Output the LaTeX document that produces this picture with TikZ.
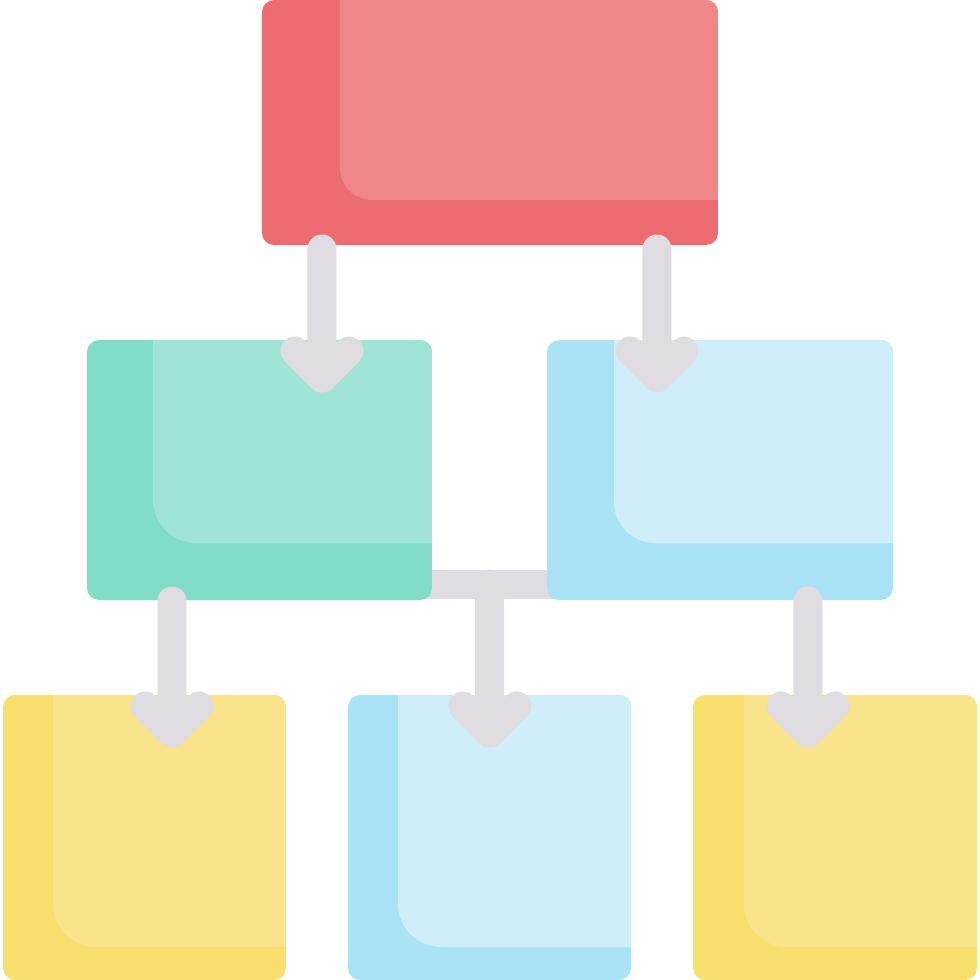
\documentclass[tikz,border=0pt]{standalone}
\usepackage{tikz}
\usetikzlibrary{calc}
\definecolor{redbase}{HTML}{EC6C71}
\definecolor{redlight}{HTML}{EF8789}
\definecolor{greenbase}{HTML}{82DDC6}
\definecolor{greenlight}{HTML}{9FE4D4}
\definecolor{bluebase}{HTML}{ABE3F6}
\definecolor{bluelight}{HTML}{D0EEFA}
\definecolor{yellowbase}{HTML}{F9DF6E}
\definecolor{yellowlight}{HTML}{F9E48B}
\definecolor{linkgray}{HTML}{DFDDE1}
\pgfdeclarelayer{background}
\pgfsetlayers{background,main}

\begin{document}
\begin{tikzpicture}[outer sep=0pt,
sheet/.style={
  rounded corners=0.12cm,
  inner sep=0pt},
link/.style={
  draw=linkgray,
  line width=0.29cm,
  line cap=round,
  line join=round},
]
\useasboundingbox (0,0) rectangle (9.8,9.8);
\node[sheet,fill=redbase,minimum width=4.56cm,minimum height=2.45cm] (head) at (4.90,8.575) {};
\node[sheet,fill=greenbase,minimum width=3.45cm,minimum height=2.60cm] (teamL) at (2.595,5.10) {};
\node[sheet,fill=bluebase,minimum width=3.46cm,minimum height=2.60cm] (teamR) at (7.20,5.10) {};
\node[sheet,fill=yellowbase,minimum width=2.83cm,minimum height=2.85cm] (unitL) at (1.445,1.425) {};
\node[sheet,fill=bluebase,minimum width=2.83cm,minimum height=2.85cm] (unitM) at (4.895,1.425) {};
\node[sheet,fill=yellowbase,minimum width=2.84cm,minimum height=2.85cm] (unitR) at (8.35,1.425) {};

% lighter part of each sheet
\foreach \b/\dx/\dy/\r/\c in {head/0.78/0.45/0.32/redlight,
  teamL/0.66/0.57/0.43/greenlight, teamR/0.67/0.57/0.41/bluelight,
  unitL/0.50/0.33/0.43/yellowlight, unitM/0.50/0.33/0.43/bluelight,
  unitR/0.51/0.33/0.43/yellowlight}{
  \begin{scope}
  \clip[rounded corners=0.12cm] (\b.south west) rectangle (\b.north east);
  \fill[\c,rounded corners=\r cm] ([xshift=\dx cm,yshift=5cm]\b.south west)
    -- ([xshift=\dx cm,yshift=\dy cm]\b.south west)
    -- ([xshift=1cm,yshift=\dy cm]\b.south east)
    -- ([xshift=1cm,yshift=5cm]\b.south east) -- cycle;
  \end{scope}
}

\coordinate (ha) at ([xshift=0.60cm,yshift=-0.04cm]head.south west);
\coordinate (hb) at ([xshift=-0.61cm,yshift=-0.04cm]head.south east);
\coordinate (la) at ([xshift=0.85cm,yshift=-0.01cm]teamL.south west);
\coordinate (rb) at ([xshift=-0.85cm,yshift=-0.01cm]teamR.south east);
\coordinate (mid) at ($(teamL.south)!0.5!(teamR.south)+(0,0.16)$);

\foreach \s/\t in {ha/teamL, hb/teamR, la/unitL, mid/unitM, rb/unitR}
  \draw[link] (\s) -- ($(\s |- \t.north)+(0,-0.38)$) coordinate (tip)
    ++(-0.27,0.27) -- (tip) -- ++(0.27,0.27);

\begin{pgfonlayer}{background}
\draw[link,line cap=butt] ([yshift=0.16cm]teamL.south) -- ([yshift=0.16cm]teamR.south);
\end{pgfonlayer}
\end{tikzpicture}
\end{document}
